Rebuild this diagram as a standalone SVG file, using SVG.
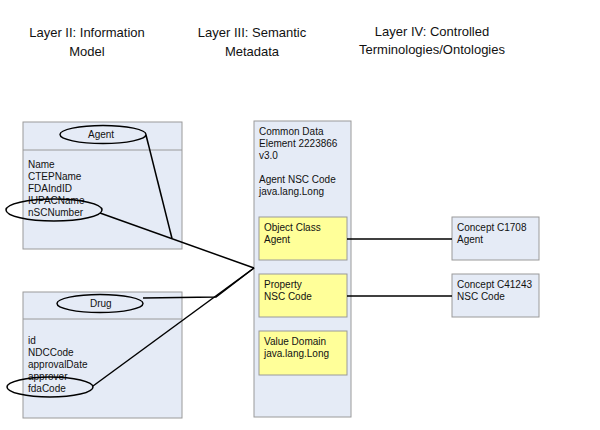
<svg xmlns="http://www.w3.org/2000/svg" width="600" height="430" viewBox="0 0 600 430">
<style>
.h{font-family:"Liberation Sans",Arial,sans-serif;font-size:13px;fill:#111;text-anchor:middle}
.t{font-family:"Liberation Sans",Arial,sans-serif;font-size:10px;fill:#111}
.box{fill:#e5ebf6;stroke:#9a9a9a;stroke-width:1}
.yel{fill:#ffff99;stroke:#9a9a9a;stroke-width:1}
.el{fill:none;stroke:#000;stroke-width:1.5}
.ln{fill:none;stroke:#000;stroke-width:1.5}
</style>
<rect width="600" height="430" fill="#fff"/>
<g id="headers">
<text class="h" x="87" y="37">Layer II: Information</text>
<text class="h" x="87" y="56">Model</text>
<text class="h" x="252" y="37">Layer III: Semantic</text>
<text class="h" x="252" y="56">Metadata</text>
<text class="h" x="432" y="36">Layer IV: Controlled</text>
<text class="h" x="432" y="54">Terminologies/Ontologies</text>
</g>
<g id="agent">
<rect class="box" x="23" y="122" width="159" height="127"/>
<line x1="23" y1="150" x2="182" y2="150" stroke="#9a9a9a"/>
<text class="t" x="88" y="138">Agent</text>
<text class="t" x="28" y="168">Name</text>
<text class="t" x="28" y="180">CTEPName</text>
<text class="t" x="28" y="192">FDAIndID</text>
<text class="t" x="28" y="204">IUPACName</text>
<text class="t" x="28" y="216">nSCNumber</text>
<ellipse class="el" cx="103" cy="134.5" rx="43" ry="9"/>
<ellipse class="el" cx="54" cy="210" rx="48" ry="11"/>
</g>
<g id="drug">
<rect class="box" x="23" y="292" width="159" height="126"/>
<line x1="23" y1="319" x2="182" y2="319" stroke="#9a9a9a"/>
<text class="t" x="90" y="307">Drug</text>
<text class="t" x="28" y="344">id</text>
<text class="t" x="28" y="356">NDCCode</text>
<text class="t" x="28" y="368">approvalDate</text>
<text class="t" x="28" y="380">approver</text>
<text class="t" x="28" y="392">fdaCode</text>
<ellipse class="el" cx="100" cy="303.5" rx="43" ry="9"/>
<ellipse class="el" cx="50" cy="387" rx="43" ry="10"/>
</g>
<g id="cde">
<rect class="box" x="254" y="121" width="97" height="296"/>
<text class="t" x="259" y="135">Common Data</text>
<text class="t" x="259" y="147">Element 2223866</text>
<text class="t" x="259" y="159">v3.0</text>
<text class="t" x="259" y="183">Agent NSC Code</text>
<text class="t" x="259" y="195">java.lang.Long</text>
</g>
<g id="objectclass">
<rect class="yel" x="259" y="217" width="88" height="43"/>
<text class="t" x="264" y="231">Object Class</text>
<text class="t" x="264" y="243">Agent</text>
</g>
<g id="property">
<rect class="yel" x="259" y="274" width="88" height="43"/>
<text class="t" x="264" y="288">Property</text>
<text class="t" x="264" y="300">NSC Code</text>
</g>
<g id="valuedomain">
<rect class="yel" x="259" y="331" width="88" height="44"/>
<text class="t" x="264" y="345">Value Domain</text>
<text class="t" x="264" y="357">java.lang.Long</text>
</g>
<g id="c1708">
<rect class="box" x="452" y="217" width="87" height="43"/>
<text class="t" x="457" y="231">Concept C1708</text>
<text class="t" x="457" y="243">Agent</text>
</g>
<g id="c41243">
<rect class="box" x="452" y="274" width="87" height="43"/>
<text class="t" x="457" y="288">Concept C41243</text>
<text class="t" x="457" y="300">NSC Code</text>
</g>
<g id="connectors">
<line class="ln" x1="146" y1="135" x2="172" y2="238.5"/>
<line class="ln" x1="100" y1="213" x2="254" y2="268"/>
<polyline class="ln" points="143,298 216,297 254,268"/>
<line class="ln" x1="93" y1="386" x2="254" y2="268"/>
<line class="ln" x1="347" y1="239" x2="452" y2="239"/>
<line class="ln" x1="347" y1="296" x2="452" y2="296"/>
</g>
</svg>
